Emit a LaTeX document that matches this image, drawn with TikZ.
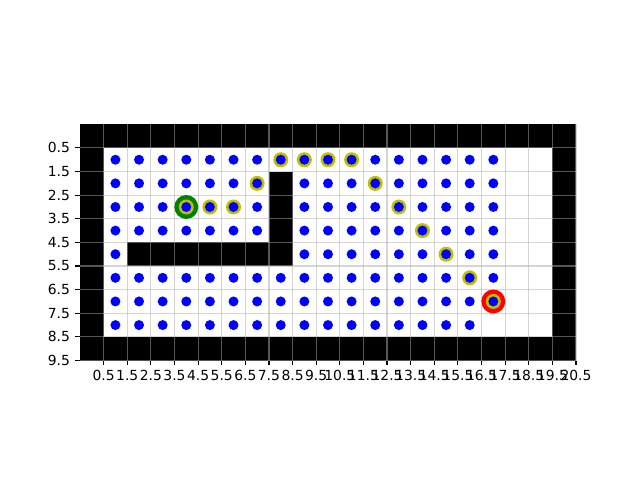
\documentclass[tikz,border=0pt]{standalone}
\usepackage{fontspec}
\setmainfont{DejaVu Sans}
\definecolor{mblue}{rgb}{0,0,1}
\definecolor{myel}{rgb}{0.75,0.75,0}
\definecolor{mgreen}{rgb}{0,0.5,0}
\definecolor{mred}{rgb}{1,0,0}
\definecolor{gridc}{rgb}{0.68,0.68,0.68}
\tikzset{
  gridline/.style={draw=gridc, draw opacity=0.5, line width=0.8pt},
  tickmark/.style={draw=black, line width=0.8pt},
  ticklabel/.style={font=\fontsize{10pt}{12pt}\selectfont, inner sep=0pt, text=black},
  bluedot/.style={fill=mblue},
  yeldot/.style={fill=myel},
}
\begin{document}
\begin{tikzpicture}[x=17.0057pt, y=-17.0057pt]
\useasboundingbox (-3.887,-5.763) rectangle (23.21,14.56);
% walls and free space
\fill[black] (-0.5,-0.5) rectangle (20.5,9.5);
\fill[white] (0.5,0.5) rectangle (19.5,8.5);
\fill[black] (1.5,4.5) rectangle (8.5,5.5);
\fill[black] (7.5,1.5) rectangle (8.5,4.5);
% grid
\foreach \i in {0,...,20} {
  \draw[gridline] (\i+0.5,-0.5) -- (\i+0.5,9.5);
}
\foreach \j in {0,...,9} {
  \draw[gridline] (-0.5,\j+0.5) -- (20.5,\j+0.5);
}
% x ticks and labels
\foreach \i in {0,...,20} {
  \coordinate (xt\i) at (\i+0.5,9.5);
  \draw[tickmark] (xt\i) -- ++(0,-3.5pt);
  \node[ticklabel, anchor=north] (xl\i) at ([yshift=-7pt]xt\i) {\i.5};
}
% y ticks and labels
\foreach \j in {0,...,9} {
  \coordinate (yt\j) at (-0.5,\j+0.5);
  \draw[tickmark] (yt\j) -- ++(-3.5pt,0);
  \node[ticklabel, anchor=east] (yl\j) at ([xshift=-7pt]yt\j) {\j.5};
}
% start and goal
\fill[mgreen] (4,3) circle (8.6pt);
\fill[mred] (17,7) circle (8.6pt);
% path markers
\foreach \p in {(4,3),(5,3),(6,3),(7,2),(8,1),(9,1),(10,1),(11,1),(12,2),(13,3),(14,4),(15,5),(16,6),(17,7)} {
  \fill[yeldot] \p circle (5.4pt);
}
% free cells
\foreach \r in {1,6,7} { \foreach \c in {1,...,17} { \fill[bluedot] (\c,\r) circle (3.6pt); } }
\foreach \r in {2,3,4} { \foreach \c in {1,...,7,9,10,...,17} { \fill[bluedot] (\c,\r) circle (3.6pt); } }
\foreach \c in {1,9,10,...,17} { \fill[bluedot] (\c,5) circle (3.6pt); }
\foreach \c in {1,...,16} { \fill[bluedot] (\c,8) circle (3.6pt); }
\end{tikzpicture}
\end{document}
